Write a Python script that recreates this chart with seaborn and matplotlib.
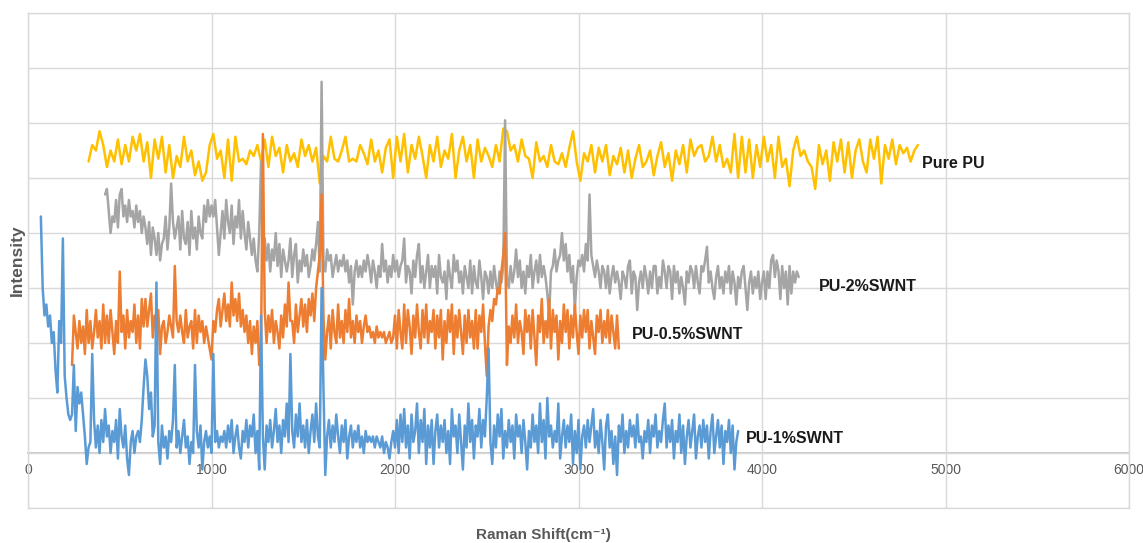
import numpy as np
import pandas as pd
import seaborn as sns
import matplotlib.pyplot as plt

# ---- data (y in gridline units, 0 = x axis) ----
pu1_x = np.arange(70, 3871, 10)
pu1_y = [4.3, 3.0, 2.5, 2.7, 2.3, 2.5, 2.0, 2.2, 1.5, 1.1, 2.4, 2.0, 3.9, 1.4, 1.0, 0.7, 0.6, 0.7, 1.6, 0.4,
         1.2, 0.9, 1.1, 0.7, 0.3, -0.2, 0.1, 0.2, 1.8, 0.6, 0.1, 0.5, 0.0, 0.6, 0.2, 0.8, 0.3, 0.5, 0.0, 0.4,
         0.2, 0.6, -0.1, 0.8, 0.3, 0.1, 0.5, -0.1, -0.4, 0.2, 0.4, 0.0, 0.3, 0.4, 0.2, 0.6, 1.2, 1.7, 1.4, 0.8,
         1.1, 0.3, 0.5, 3.1, 0.2, -0.2, 0.5, 0.1, 0.3, -0.1, 0.4, 0.2, 0.6, 1.6, 0.1, 0.4, 0.0, 0.3, 0.6, 0.1,
         0.3, -0.2, 0.2, 0.0, 1.6, 0.4, 0.1, 0.5, -0.3, 0.2, 0.4, 0.1, 0.3, 0.0, 1.8, 0.2, 0.4, 0.1, 0.3, 0.2,
         0.4, 0.1, 0.5, 0.2, 0.6, 0.0, 0.3, 0.5, 0.1, -0.1, 0.4, 0.2, 0.6, 0.1, 0.5, 0.3, 0.7, 0.0, 0.4, -0.3,
         2.5, 0.3, -0.3, 0.5, 0.2, 0.6, 0.1, 0.4, 0.8, 0.2, 0.5, 0.0, 0.6, 0.3, 0.9, 0.2, 1.8, 0.4, 0.1, 0.7,
         0.3, 0.9, 0.2, 0.5, 0.1, 0.6, 0.0, 0.4, 0.7, 0.2, 0.9, 0.3, 0.1, 3.0, 1.2, -0.4, 0.3, 0.6, 0.1, 0.5,
         0.2, 0.7, 0.3, 0.0, 0.5, 0.2, 0.6, -0.1, 0.3, 0.5, 0.1, 0.4, 0.2, 0.5, 0.1, 0.3, 0.0, 0.4, 0.2, 0.3,
         0.2, 0.3, 0.1, 0.3, 0.2, 0.1, 0.3, 0.0, 0.2, 0.1, -0.1, 0.2, 0.4, 0.1, 0.6, 0.0, 0.7, 0.2, 0.8, 0.1,
         0.5, -0.1, 0.7, 0.2, 0.4, 0.9, 0.0, 0.6, 0.2, 0.8, -0.2, 0.5, 0.1, 0.6, -0.2, 0.4, 0.7, 0.1, 0.5, 0.2,
         0.6, 0.0, 0.4, -0.2, 0.8, 0.3, 0.5, 0.0, 0.7, 0.2, -0.3, 0.5, 0.1, 0.9, 0.2, 0.6, -0.1, 0.5, 0.3, 0.8,
         0.1, 0.6, 0.3, 1.0, 1.9, 0.2, -0.2, 0.5, 0.1, 0.7, 0.3, 0.8, -0.1, 0.4, 0.1, 0.6, 0.2, 0.5, -0.1, 0.7,
         0.3, 0.5, 0.0, 0.6, 0.2, -0.3, 0.4, 0.1, 0.7, 0.2, 0.5, 0.0, 0.9, 0.2, 0.6, -0.1, 1.0, 0.3, 0.5, 0.1,
         0.4, 0.2, 0.9, -0.1, 0.3, 0.6, 0.1, 0.5, 0.2, 0.7, -0.2, 0.4, 0.0, 0.6, -0.3, 0.3, 0.5, 0.1, 0.6, 0.2,
         0.5, 0.8, 0.1, 0.4, 0.0, 0.6, 0.2, -0.3, 0.5, 0.7, 0.1, 0.4, -0.2, 0.3, -0.4, 0.5, 0.2, 0.7, 0.0, 0.4,
         0.1, 0.6, 0.3, 0.5, 0.1, 0.7, 0.2, 0.3, -0.1, 0.4, 0.2, 0.6, 0.0, 0.5, 0.3, 0.7, 0.1, 0.4, 0.2, 0.6,
         0.9, 0.1, 0.5, 0.2, 0.6, -0.1, 0.4, 0.2, 0.7, 0.0, 0.5, -0.2, 0.3, 0.6, 0.1, 0.4, 0.7, -0.1, 0.3, 0.5,
         0.1, 0.6, 0.2, 0.5, -0.1, 0.4, 0.7, 0.0, 0.3, 0.6, 0.1, 0.5, -0.2, 0.4, 0.2, 0.6, 0.0, 0.5, -0.3, 0.2,
         0.4]

pu05_x = np.arange(240, 3221, 10)
pu05_y = [1.6, 2.5, 2.2, 1.9, 2.4, 2.0, 2.3, 1.8, 2.6, 2.0, 2.4, 1.9, 2.2, 2.6, 2.1, 2.4, 1.9, 2.7, 2.0, 2.5,
          2.0, 2.6, 2.2, 1.8, 2.4, 2.0, 3.3, 2.2, 2.5, 1.9, 2.6, 2.1, 2.4, 2.2, 2.7, 2.0, 2.5, 1.9, 2.8, 2.3,
          2.8, 2.3, 2.6, 2.9, 2.1, 2.5, 2.2, 2.6, 1.8, 2.3, 2.4, 2.0, 2.2, 2.5, 2.3, 2.1, 3.4, 2.4, 2.2, 2.5,
          2.2, 2.0, 2.6, 2.1, 2.3, 2.4, 1.9, 2.6, 2.0, 2.5, 2.2, 2.4, 2.0, 2.3, 2.1, 1.9, 1.7, 2.4, 2.2, 2.6,
          2.8, 2.3, 2.6, 2.9, 2.4, 2.7, 2.3, 3.1, 2.5, 2.8, 2.4, 2.9, 2.3, 2.6, 2.2, 2.5, 2.0, 2.4, 1.8, 2.3,
          2.0, 2.4, 1.6, 1.9, 5.8, 2.6, 2.0, 2.5, 2.2, 2.6, 2.0, 2.4, 2.2, 1.9, 2.5, 2.1, 2.7, 2.3, 3.1, 2.4,
          2.4, 2.0, 2.7, 2.2, 2.5, 2.8, 2.3, 2.7, 2.2, 2.8, 2.5, 2.9, 2.4, 3.0, 3.3, 3.6, 4.7, 2.5, 1.7, 2.2,
          2.5, 1.9, 2.6, 2.2, 2.0, 2.7, 2.1, 2.4, 2.0, 2.6, 2.2, 2.8, 2.1, 2.4, 2.0, 2.5, 2.2, 2.4, 2.0, 2.3,
          2.5, 2.2, 2.3, 2.1, 2.2, 2.0, 2.3, 2.1, 2.2, 2.1, 2.2, 2.0, 2.1, 2.2, 2.0, 2.1, 2.5, 1.9, 2.6, 2.2,
          1.9, 2.7, 2.0, 2.6, 2.3, 1.8, 2.5, 2.1, 2.7, 2.2, 1.9, 2.6, 2.1, 2.7, 2.0, 2.4, 2.2, 2.6, 1.9, 2.5,
          2.1, 2.6, 1.7, 2.4, 2.0, 2.6, 2.2, 2.7, 1.8, 2.5, 2.1, 2.6, 2.2, 1.8, 2.5, 2.0, 2.6, 2.1, 2.4, 1.9,
          2.6, 1.9, 2.5, 2.2, 2.7, 2.0, 1.4, 2.3, 2.6, 2.4, 2.8, 2.7, 3.0, 2.9, 3.3, 3.6, 4.0, 1.6, 2.3, 2.0,
          2.5, 2.1, 2.7, 2.0, 2.4, 2.2, 1.8, 2.6, 2.2, 2.5, 1.9, 2.6, 2.1, 1.6, 2.5, 2.2, 2.8, 2.0, 2.4, 2.1,
          2.8, 1.9, 2.6, 2.2, 2.5, 1.7, 2.4, 2.0, 2.7, 2.2, 2.6, 1.9, 2.5, 2.1, 2.7, 2.2, 1.8, 2.5, 2.1, 2.6,
          2.2, 2.6, 1.9, 2.4, 2.1, 1.8, 2.5, 2.2, 2.6, 2.0, 2.4, 2.1, 2.6, 2.0, 2.5, 2.2, 1.9, 2.5, 1.9]

pu2_x = np.arange(420, 4201, 10)
pu2_y = [4.7, 4.8, 4.4, 4.0, 4.3, 4.2, 4.6, 4.1, 4.7, 4.8, 4.3, 4.5, 4.2, 4.6, 4.3, 4.4, 4.1, 4.5, 4.2, 4.4,
         4.0, 4.3, 4.1, 3.8, 4.2, 3.6, 4.1, 3.9, 3.6, 4.0, 3.5, 3.8, 3.9, 4.3, 3.7, 4.1, 4.9, 4.2, 3.9, 4.1,
         4.3, 3.7, 4.4, 3.9, 3.8, 4.2, 3.6, 4.4, 3.9, 4.1, 3.7, 4.3, 4.0, 3.9, 4.5, 4.2, 4.6, 4.3, 4.5, 4.3,
         4.6, 4.1, 3.6, 4.0, 4.4, 3.9, 4.6, 4.2, 4.0, 4.5, 3.8, 4.3, 4.1, 4.6, 3.9, 4.4, 4.0, 3.7, 4.2, 3.9,
         3.6, 3.9, 3.5, 3.3, 4.0, 5.3, 3.4, 3.9, 3.5, 3.8, 3.3, 3.7, 3.5, 4.0, 3.4, 3.8, 3.2, 3.7, 3.5, 3.3,
         3.5, 3.9, 3.2, 3.6, 3.8, 3.1, 3.5, 3.3, 3.7, 3.4, 3.6, 3.2, 3.4, 3.7, 3.5, 3.8, 4.2, 3.3, 6.75, 3.5,
         3.3, 3.7, 3.5, 3.6, 3.2, 3.4, 3.6, 3.3, 3.5, 3.4, 3.6, 3.3, 3.5, 3.1, 3.4, 2.7, 3.3, 3.5, 3.2, 3.4,
         3.2, 3.5, 3.3, 3.6, 3.4, 3.1, 3.5, 3.3, 3.0, 3.4, 3.2, 3.8, 3.3, 3.5, 3.1, 3.4, 3.2, 3.6, 3.3, 3.5,
         3.2, 3.4, 3.5, 3.9, 3.1, 3.4, 3.3, 2.9, 3.5, 3.2, 3.6, 3.8, 3.1, 3.4, 3.0, 3.3, 3.6, 3.0, 3.4, 3.2,
         3.4, 2.9, 3.6, 3.2, 3.1, 3.3, 2.8, 3.5, 3.2, 3.0, 3.6, 3.3, 3.5, 3.1, 3.3, 2.9, 3.4, 3.2, 3.0, 3.5,
         2.9, 3.4, 3.1, 3.0, 3.5, 3.2, 2.8, 3.3, 3.2, 2.9, 3.3, 3.0, 3.4, 3.1, 2.9, 3.3, 3.1, 3.4, 6.05, 3.2,
         3.0, 3.4, 3.1, 3.3, 3.7, 3.2, 3.5, 3.0, 3.3, 2.9, 3.4, 3.2, 3.6, 3.0, 3.3, 3.5, 3.1, 3.6, 3.2, 3.4,
         3.2, 2.9, 2.5, 3.3, 3.4, 3.7, 3.3, 3.5, 3.6, 4.0, 3.5, 3.8, 3.3, 3.6, 3.1, 3.4, 2.6, 3.2, 3.5, 3.4,
         3.6, 3.3, 3.8, 3.5, 4.7, 3.6, 3.4, 3.2, 3.5, 3.3, 3.0, 3.4, 3.3, 3.0, 3.4, 2.9, 3.2, 3.4, 3.1, 3.3,
         3.1, 2.8, 3.3, 3.2, 3.0, 3.4, 3.5, 2.9, 3.3, 3.2, 2.6, 3.1, 3.3, 3.0, 3.4, 3.2, 2.9, 3.3, 3.0, 3.4,
         3.4, 2.9, 3.2, 3.0, 3.5, 3.3, 3.0, 3.4, 3.3, 2.8, 3.4, 3.1, 3.3, 2.9, 3.2, 3.0, 2.7, 3.3, 3.1, 3.4,
         3.3, 3.0, 3.4, 3.1, 2.9, 3.4, 3.3, 3.5, 3.75, 3.1, 3.3, 3.0, 2.8, 3.2, 3.4, 3.0, 3.2, 2.9, 3.3, 3.1,
         3.4, 2.9, 3.3, 3.1, 2.7, 3.2, 3.0, 3.3, 3.4, 3.0, 2.6, 3.1, 3.3, 2.9, 3.2, 3.0, 3.3, 2.8, 3.1, 3.3,
         2.8, 3.3, 3.0, 3.5, 3.6, 3.2, 3.5, 3.3, 2.8, 3.4, 3.0, 3.3, 2.7, 3.4, 2.9, 3.3, 3.1, 3.3, 3.2]

pure_x = np.arange(330, 4851, 20)
pure_y = [5.3, 5.6, 5.5, 5.85, 5.6, 5.2, 5.5, 5.3, 5.7, 5.25,
          5.6, 5.3, 5.75, 5.5, 5.8, 5.3, 5.65, 5.0, 5.7, 5.35,
          5.75, 5.1, 5.6, 5.0, 5.4, 5.2, 5.75, 5.3, 5.5, 5.05,
          5.3, 4.95, 5.1, 5.6, 5.8, 5.35, 5.5, 5.0, 5.7, 4.95,
          5.75, 5.3, 5.35, 5.25, 5.5, 5.4, 5.6, 5.3, 5.7, 5.2,
          5.75, 5.4, 5.55, 5.1, 5.6, 5.3, 5.45, 5.2, 5.7, 5.4,
          5.6, 5.3, 5.55, 4.9, 5.4, 5.3, 5.75, 5.35, 5.3, 5.5,
          5.75, 5.3, 5.35, 5.3, 5.6, 5.45, 5.25, 5.7, 5.3, 5.5,
          5.1, 5.55, 5.7, 5.0, 5.75, 5.3, 5.8, 5.1, 5.6, 5.35,
          5.75, 5.4, 5.0, 5.6, 5.3, 5.75, 5.2, 5.5, 5.35, 5.8,
          5.0, 5.5, 5.75, 5.3, 5.6, 5.0, 5.7, 5.3, 5.55, 5.4,
          5.2, 5.6, 5.3, 5.9, 5.85, 5.5, 5.6, 5.3, 5.7, 5.4,
          5.35, 5.0, 5.65, 5.3, 5.4, 5.2, 5.6, 5.3, 5.25, 5.45,
          5.2, 5.55, 5.85, 5.3, 4.95, 5.45, 5.3, 5.6, 5.1, 5.55,
          5.3, 5.6, 5.05, 5.4, 5.25, 5.55, 5.1, 5.5, 5.0, 5.35,
          5.6, 5.2, 5.3, 5.5, 5.05, 5.4, 5.65, 5.2, 5.45, 4.95,
          5.5, 5.25, 5.6, 5.1, 5.7, 5.4, 5.55, 5.6, 5.3, 5.4,
          5.75, 5.3, 5.6, 5.2, 5.35, 5.1, 5.8, 5.0, 5.75, 5.1,
          5.7, 5.0, 5.6, 5.2, 5.75, 5.3, 5.6, 5.0, 5.75, 5.2,
          5.35, 4.85, 5.5, 5.75, 5.4, 5.5, 5.3, 5.2, 4.8, 5.6,
          5.25, 5.5, 4.95, 5.65, 5.3, 5.7, 5.1, 5.65, 5.0, 5.5,
          5.7, 5.3, 5.1, 5.7, 5.35, 5.75, 4.9, 5.6, 5.35, 5.7,
          5.25, 5.6, 5.45, 5.55, 5.3, 5.5, 5.6]

names = ['Pure PU', 'PU-2%SWNT', 'PU-0.5%SWNT', 'PU-1%SWNT']
colors = ['#ffc000', '#a5a5a5', '#ed7d31', '#5b9bd5']
label_pos = [(4870, 5.27), (4310, 3.02), (3290, 2.15), (3910, 0.27)]
x_ticks = [0, 1000, 2000, 3000, 4000, 5000, 6000]

df = pd.concat([
    pd.DataFrame({'shift': pure_x, 'intensity': pure_y, 'sample': names[0]}),
    pd.DataFrame({'shift': pu2_x, 'intensity': pu2_y, 'sample': names[1]}),
    pd.DataFrame({'shift': pu05_x, 'intensity': pu05_y, 'sample': names[2]}),
    pd.DataFrame({'shift': pu1_x, 'intensity': pu1_y, 'sample': names[3]}),
])

# ---- plot ----
sns.set_theme(style='white')
plt.rcParams['font.family'] = ['Liberation Sans', 'DejaVu Sans']

fig = plt.figure(figsize=(11.43, 5.43), dpi=100)
ax = fig.add_axes([28 / 1143, 1 - 508 / 543, 1101 / 1143, 495 / 543])

sns.lineplot(data=df, x='shift', y='intensity', hue='sample', hue_order=names,
             palette=colors, estimator=None, sort=False, legend=False,
             lw=1.8, ax=ax)

ax.set_xlim(0, 6000)
ax.set_ylim(-1, 8)
ax.set_xticks(x_ticks)
ax.set_yticks(range(-1, 9))
ax.tick_params(labelbottom=False, labelleft=False, length=0)
ax.grid(True, color='#d9d9d9', lw=1)
ax.set_axisbelow(True)
for sp in ax.spines.values():
    sp.set_color('#d9d9d9')
    sp.set_linewidth(1)
ax.set_xlabel('')
ax.set_ylabel('')

# category axis crossing at y = 0
sec = ax.secondary_xaxis(1 / 9)
sec.set_xticks(x_ticks)
sec.set_xticklabels([str(t) for t in x_ticks])
sec.tick_params(length=0, pad=7, labelsize=10, labelcolor='#595959')
sec.spines['bottom'].set_color('#bfbfbf')
sec.spines['bottom'].set_linewidth(1.2)

for name, (lx, ly) in zip(names, label_pos):
    ax.text(lx, ly, name, ha='left', va='center', fontsize=11.5,
            fontweight='bold', color='#1a1a1a')

fig.text(17 / 1143, 1 - 260 / 543, 'Intensity', rotation=90, ha='center',
         va='center', fontsize=12.5, fontweight='bold', color='#595959')
fig.text(543 / 1143, 1 - 535 / 543, 'Raman Shift(cm⁻¹)', ha='center',
         va='center', fontsize=11, fontweight='bold', color='#595959')

fig.savefig('out.png', dpi=100)
